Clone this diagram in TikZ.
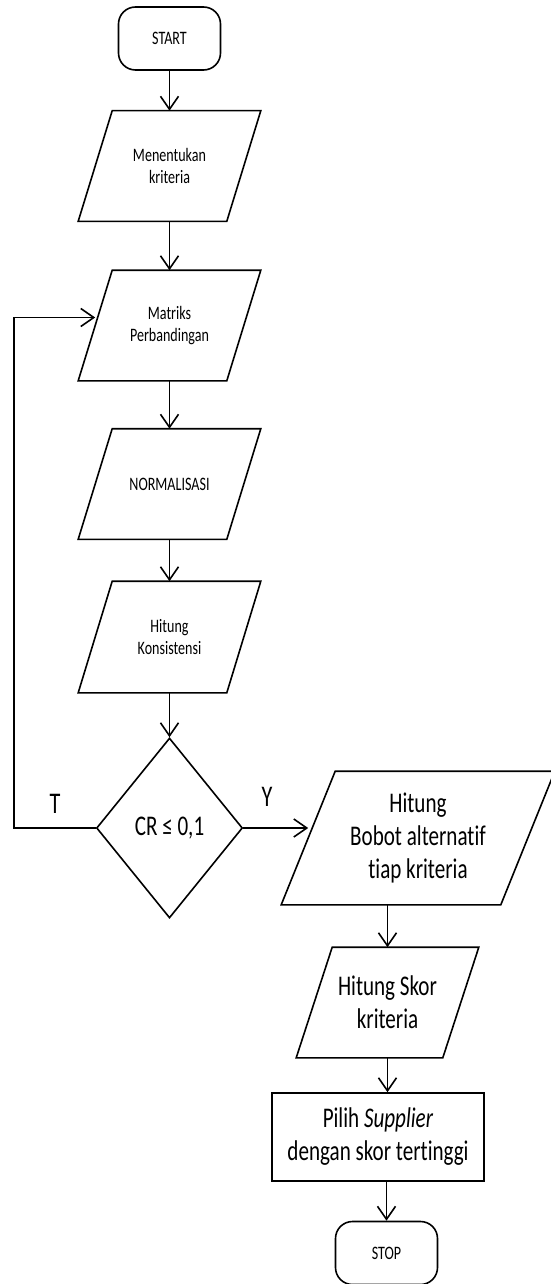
\documentclass[tikz,border=0pt]{standalone}
\usepackage{fontspec}
\setmainfont{Carlito}[FakeStretch=0.74, Ligatures=NoCommon]
\usetikzlibrary{shapes.geometric,arrows.meta}
\begin{document}
\begin{tikzpicture}[x=1pt, y=-1pt, line width=1.6pt,
  every node/.style={align=center, font=\fontsize{19}{22.5}\selectfont},
  big/.style={font=\fontsize{28.5}{33}\selectfont},
  term/.style={draw, rounded corners=17pt, minimum width=102pt, minimum height=63pt},
  io/.style={inner sep=0pt, minimum width=147pt, minimum height=109pt},
  arr/.style={-{Straight Barb[length=13pt,width=18pt]}}]
\useasboundingbox (0,0) rectangle (550,1284);
% kolom kiri
\node[term] (start) at (169.5,38.5) {START};
\node[io] (krit) at (169.5,166) {Menentukan\\kriteria};
\node[io] (matriks) at (169.5,325.5) {Matriks\\Perbandingan};
\node[io] (norm) at (169.5,484) {NORMALISASI};
\node[io, minimum height=110pt] (kons) at (169.5,637) {Hitung\\Konsistensi};
\node[draw, diamond, minimum width=146pt, minimum height=180pt, inner sep=0pt, big] (cr) at (169.5,828) {CR ≤ 0,1};
% kolom kanan
\node[io, big, minimum width=218pt, minimum height=132pt] (bobot) at (418,838) {Hitung\\Bobot alternatif\\tiap kriteria};
\node[io, big, minimum width=145pt] (skor) at (387.5,1002.5) {Hitung Skor\\kriteria};
\node[draw, big, minimum width=212pt, minimum height=88pt, inner sep=0pt] (pilih) at (378,1137) {Pilih \emph{Supplier}\\dengan skor tertinggi};
\node[term] (stop) at (386.5,1253) {STOP};
% jajaran genjang
\foreach \n/\s in {krit/17, matriks/17, norm/17, kons/17, bobot/27, skor/18}
  \draw ([xshift=-\s]\n.south west) -- ([xshift=-\s]\n.south east)
    -- ([xshift=\s]\n.north east) -- ([xshift=\s]\n.north west) -- cycle;
\coordinate (balik) at (14,828);
% panah
\draw[arr] (start) -- (krit);
\draw[arr] (krit) -- (matriks);
\draw[arr] (matriks) -- (norm);
\draw[arr] (norm) -- (kons);
\draw[arr] (kons) -- (cr);
\draw[arr] (cr.west) -- (balik) |- ([yshift=8pt]matriks.west);
\draw[arr] (cr.east) -- (cr.east -| bobot.west);
\draw[arr] (skor.north |- bobot.south) -- (skor.north);
\draw[arr] (skor.south) -- (skor.south |- pilih.north);
\draw[arr] (stop.north |- pilih.south) -- (stop.north);
\node[font=\fontsize{30}{36}\selectfont] (t) at (55,804) {T};
\node[font=\fontsize{30}{36}\selectfont] (y) at (267,797) {Y};
\end{tikzpicture}
\end{document}
